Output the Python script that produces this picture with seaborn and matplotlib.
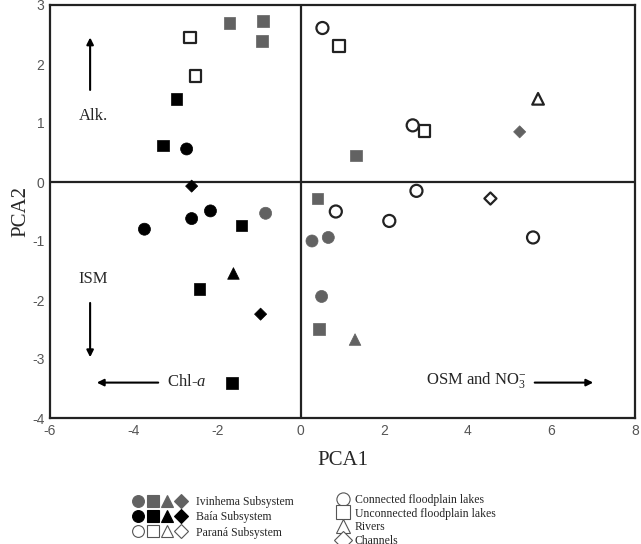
import matplotlib
matplotlib.use("Agg")
import matplotlib.pyplot as plt
from matplotlib.lines import Line2D
from matplotlib.legend_handler import HandlerTuple
import seaborn as sns
import pandas as pd

# dados (PCA1, PCA2)
ivinhema_x = [-1.70, -0.90, -0.92, 1.32, 0.40, 0.44, -0.84, 0.27, 0.66, 0.50, 1.30, 5.24]
ivinhema_y = [2.70, 2.73, 2.39, 0.45, -0.28, -2.49, -0.53, -1.00, -0.94, -1.94, -2.67, 0.85]
ivinhema_hab = ["U", "U", "U", "U", "U", "U", "C", "C", "C", "C", "R", "Ch"]

baia_x = [-2.97, -3.29, -1.42, -2.42, -1.64, -2.73, -2.61, -2.16, -3.74, -1.61, -2.61, -0.96]
baia_y = [1.41, 0.62, -0.74, -1.81, -3.41, 0.56, -0.62, -0.49, -0.80, -1.55, -0.07, -2.24]
baia_hab = ["U", "U", "U", "U", "U", "C", "C", "C", "C", "R", "Ch", "Ch"]

parana_x = [-2.65, -2.52, 0.92, 2.96, 0.52, 2.68, 0.84, 2.77, 2.12, 5.56, 5.68, 4.54]
parana_y = [2.45, 1.80, 2.31, 0.86, 2.61, 0.96, -0.50, -0.15, -0.66, -0.94, 1.41, -0.28]
parana_hab = ["U", "U", "U", "U", "C", "C", "C", "C", "C", "C", "R", "Ch"]

subsistemas = ["Ivinhema Subsystem", "Baía Subsystem", "Paraná Subsystem"]
habitats = ["Connected floodplain lakes", "Unconnected floodplain lakes", "Rivers", "Channels"]
cod_hab = {"C": habitats[0], "U": habitats[1], "R": habitats[2], "Ch": habitats[3]}

df = pd.concat([
    pd.DataFrame({"PCA1": ivinhema_x, "PCA2": ivinhema_y, "sub": subsistemas[0], "hab": ivinhema_hab}),
    pd.DataFrame({"PCA1": baia_x, "PCA2": baia_y, "sub": subsistemas[1], "hab": baia_hab}),
    pd.DataFrame({"PCA1": parana_x, "PCA2": parana_y, "sub": subsistemas[2], "hab": parana_hab}),
])
df["hab"] = df["hab"].map(cod_hab)

CINZA = "#626262"
cores = {subsistemas[0]: (CINZA, CINZA), subsistemas[1]: ("black", "black"), subsistemas[2]: ("white", "#222222")}
marcadores = dict(zip(habitats, ["o", "s", "^", "D"]))
tamanhos = dict(zip(habitats, [75, 70, 70, 38]))

sns.set_style("white")
plt.rcParams["axes.unicode_minus"] = False
plt.rcParams["mathtext.fontset"] = "custom"
plt.rcParams["mathtext.rm"] = "Liberation Serif"
plt.rcParams["mathtext.it"] = "Liberation Serif:italic"
serif = ["Liberation Serif", "DejaVu Serif"]
tickfont = ["Liberation Sans Narrow", "Liberation Sans", "DejaVu Sans"]

fig = plt.figure(figsize=(6.41, 5.44), dpi=100)
ax = fig.add_axes([50 / 641, 1 - 418 / 544, 585 / 641, 413 / 544])

for sub in subsistemas:
    face, edge = cores[sub]
    sns.scatterplot(data=df[df["sub"] == sub], x="PCA1", y="PCA2", style="hab", size="hab",
                    markers=marcadores, sizes=tamanhos, style_order=habitats, size_order=habitats,
                    color=face, edgecolor=edge, linewidth=1.6 if sub == subsistemas[2] else 0.5,
                    legend=False, ax=ax, zorder=3)

ax.axhline(0, color="#222222", lw=1.6, zorder=2)
ax.axvline(0, color="#222222", lw=1.6, zorder=2)

ax.set_xlim(-6, 8)
ax.set_ylim(-4, 3)
ax.set_xticks(range(-6, 9, 2))
ax.set_yticks(range(-4, 4))
for s in ax.spines.values():
    s.set_color("#222222")
    s.set_linewidth(1.6)
ax.tick_params(direction="in", length=2, width=1, color="#222222", labelcolor="#555555", pad=4)
for lab in ax.get_xticklabels() + ax.get_yticklabels():
    lab.set_family(tickfont)
    lab.set_fontsize(10)

ax.set_xlabel("PCA1", family=serif, fontsize=15, labelpad=10)
ax.set_ylabel("PCA2", family=serif, fontsize=15, labelpad=1)

seta = dict(arrowstyle="-|>", color="black", lw=1.5, mutation_scale=10, shrinkA=0, shrinkB=0)
ax.annotate("", xy=(-5.04, 2.45), xytext=(-5.04, 1.56), arrowprops=seta)
ax.text(-4.96, 1.12, "Alk.", family=serif, fontsize=12, ha="center", va="center")
ax.text(-4.96, -1.65, "ISM", family=serif, fontsize=12, ha="center", va="center")
ax.annotate("", xy=(-5.04, -2.97), xytext=(-5.04, -2.05), arrowprops=seta)
ax.text(-2.72, -3.39, "Chl-$\\it{a}$", family=serif, fontsize=12, ha="center", va="center")
ax.annotate("", xy=(-4.88, -3.40), xytext=(-3.41, -3.40), arrowprops=seta)
ax.text(4.20, -3.36, "OSM and NO$_3^{-}$", family=serif, fontsize=12, ha="center", va="center")
ax.annotate("", xy=(7.0, -3.40), xytext=(5.6, -3.40), arrowprops=seta)


def marca(m, face, edge, ms):
    return Line2D([], [], ls="none", marker=m, markersize=ms, markerfacecolor=face,
                  markeredgecolor=edge, markeredgewidth=0.8)


ms = [8.5, 8.5, 8.5, 7.5]
h_sub = []
for sub in subsistemas:
    face, edge = cores[sub]
    if sub == subsistemas[2]:
        edge = "#555555"
    h_sub.append(tuple(marca(m, face, edge, t) for m, t in zip(["o", "s", "^", "D"], ms)))
fig.legend(h_sub, subsistemas, loc="upper left", bbox_to_anchor=(126 / 641, 1 - 490 / 544),
           frameon=False, handler_map={tuple: HandlerTuple(ndivide=None, pad=0.1)},
           handlelength=4.7, handletextpad=0.75, labelspacing=0.28, borderpad=0,
           prop={"family": serif, "size": 8.5})
h_hab = [marca(m, "white", "#555555", 9.5) for m in ["o", "s", "^", "D"]]
fig.legend(h_hab, habitats, loc="upper left", bbox_to_anchor=(331 / 641, 1 - 488 / 544),
           frameon=False, handlelength=1.0, handletextpad=0.5, labelspacing=0.14, borderpad=0,
           prop={"family": serif, "size": 8.5})

fig.savefig("out.png", dpi=100)
